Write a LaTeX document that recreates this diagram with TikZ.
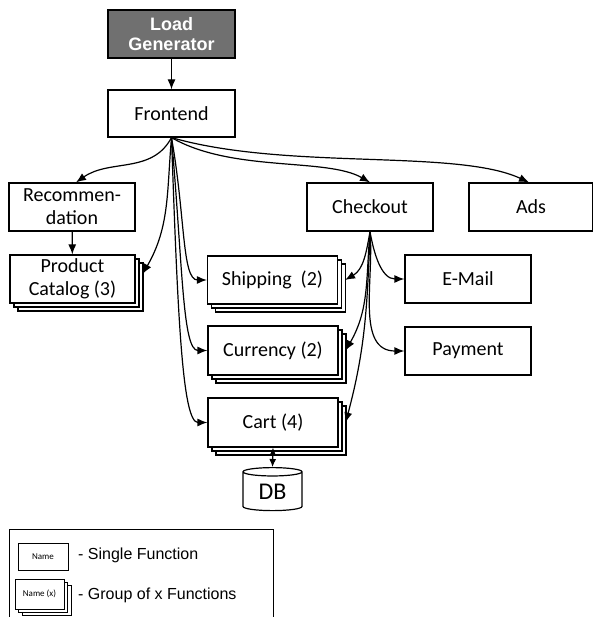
\documentclass[tikz,border=0pt]{standalone}
\usepackage{fontspec}
\setmainfont{Carlito}
\newfontfamily\arialfont{Liberation Sans}
\usetikzlibrary{arrows.meta,shapes.geometric,shadows}
\definecolor{lgfill}{HTML}{707070}
\tikzset{
  box/.style={draw, line width=1.2pt, fill=white, minimum width=126pt, minimum height=48pt,
    inner sep=2pt, align=center, font=\fontsize{20}{23}\selectfont},
  stackbox/.style={box, double copy shadow={shadow xshift=4pt, shadow yshift=-4pt,
    draw=black, fill=white, line width=1.2pt}},
  arr/.style={-{Latex[length=10pt,width=8pt]}, line width=1.2pt},
  dblarr/.style={{Latex[length=8pt,width=7pt]}-{Latex[length=8pt,width=7pt]}, line width=1.2pt},
  legtext/.style={anchor=west, inner sep=0pt, font=\arialfont\fontsize{16}{18}\selectfont},
}
\begin{document}
\begin{tikzpicture}[x=1pt,y=-1pt]
\useasboundingbox (0,0) rectangle (592,617);
% nodes
\node[box, fill=lgfill, minimum width=127pt, font=\arialfont\bfseries\fontsize{18}{20}\selectfont, text=white] (lg) at (171.5,34) {Load\\Generator};
\node[box, minimum width=127pt, minimum height=47pt] (fe) at (171.5,113.5) {Frontend};
\node[box] (rec) at (72,207) {Recommen-\\dation};
\node[stackbox, minimum width=125pt] (pc) at (72.5,279) {Product\\Catalog (3)};
\node[stackbox, minimum width=130pt] (ship) at (272.5,280) {Shipping~ (2)};
\node[stackbox, minimum width=130pt, minimum height=49pt] (cur) at (273,350.5) {Currency (2)};
\node[stackbox, minimum width=130pt, minimum height=49pt] (cart) at (273,422.5) {Cart (4)};
\node[box] (co) at (370,207) {Checkout};
\node[box, minimum width=124pt] (ads) at (531,207) {Ads};
\node[box] (mail) at (468,279) {E-Mail};
\node[box] (pay) at (468,351) {Payment};
\node[cylinder, draw, line width=1.2pt, shape border rotate=90, aspect=0.3, minimum width=59pt,
  minimum height=43pt, inner sep=0pt, font=\fontsize{24}{26}\selectfont] (db) at (272.5,491.5) {\raisebox{-3pt}{DB}};
% connectors
\draw[arr] (lg) -- (fe);
\draw[arr] (rec) -- (pc);
\draw[arr] (fe.south) to[out=-118, in=35] ([xshift=4pt]rec.north);
\draw[arr] (fe.south) to[out=-95, in=60] ([xshift=7pt,yshift=5pt]pc.east);
\draw[arr] (fe.south) .. controls +(-80:80pt) and +(180:25pt) .. (ship.west);
\draw[arr] (fe.south) .. controls +(-85:130pt) and +(180:25pt) .. (cur.west);
\draw[arr] (fe.south) .. controls +(-88:180pt) and +(180:25pt) .. (cart.west);
\draw[arr] (fe.south) .. controls +(-30:70pt) and +(150:50pt) .. (co.north);
\draw[arr] (fe.south) .. controls +(-16:120pt) and +(155:80pt) .. ([xshift=-2pt]ads.north);
\draw[arr] (co.south) to[out=-100, in=30] ([xshift=7pt]ship.east);
\draw[arr] (co.south) to[out=-95, in=60] ([xshift=7pt]cur.east);
\draw[arr] (co.south) to[out=-92, in=75] ([xshift=7pt]cart.east);
\draw[arr] (co.south) to[out=-80, in=180] (mail.west);
\draw[arr] (co.south) to[out=-85, in=180] (pay.west);
\draw[dblarr] (cart.south) -- (db.north);
% legend
\node[draw, line width=1pt, minimum width=264pt, minimum height=100pt, inner sep=0pt] (leg) at (141,579) {};
\node[box, minimum width=50pt, minimum height=27pt, line width=1pt, font=\fontsize{9}{10}\selectfont] (l1) at (43,556.5) {Name};
\node[box, minimum width=49pt, minimum height=30pt, line width=1pt, font=\fontsize{9}{10}\selectfont,
  double copy shadow={shadow xshift=3.5pt, shadow yshift=-3pt, draw=black, fill=white, line width=1pt}] (l2) at (39.5,594) {Name (x)};
\node[legtext] (t1) at (78,555) {- Single Function};
\node[legtext] (t2) at (78,595) {- Group of x Functions};
\end{tikzpicture}
\end{document}
